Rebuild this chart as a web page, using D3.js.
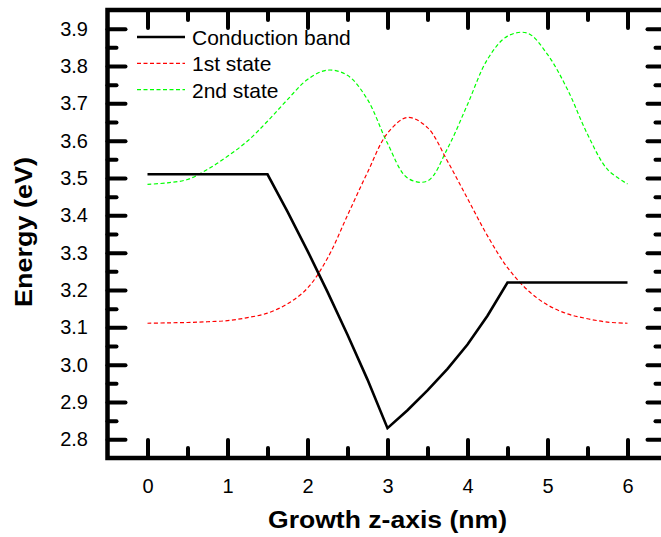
<!DOCTYPE html>
<html>
<head>
<meta charset="utf-8">
<script src="https://cdn.jsdelivr.net/npm/d3@7"></script>
<style>
  html, body { margin: 0; padding: 0; background: #fff; }
  svg { display: block; font-family: "Liberation Sans", Arial, sans-serif; }
</style>
</head>
<body>
<svg id="chart" width="661" height="537"></svg>
<script>
// Conduction band profile along the growth axis (nm, eV)
const bandZ = [0, 1.5, 1.75, 2.0, 2.25, 2.5, 2.75, 3.0, 3.25, 3.5, 3.75, 4.0, 4.25, 4.5, 6];
const bandE = [3.51, 3.51, 3.41, 3.305, 3.195, 3.08, 2.96, 2.83, 2.878, 2.931, 2.989, 3.054, 3.131, 3.22, 3.22];

// Sampling positions for the two bound states (nm)
const stateZ = [0, 0.25, 0.5, 0.75, 1.0, 1.25, 1.5, 1.75, 2.0, 2.25, 2.5, 2.75, 3.0,
                3.25, 3.5, 3.75, 4.0, 4.25, 4.5, 4.75, 5.0, 5.25, 5.5, 5.75, 6.0];
const state1 = [3.111, 3.112, 3.113, 3.115, 3.118, 3.126, 3.138, 3.163, 3.205, 3.285, 3.40, 3.515, 3.62,
                3.662, 3.635, 3.545, 3.445, 3.345, 3.26, 3.20, 3.16, 3.136, 3.123, 3.114, 3.111];
const state2 = [3.483, 3.487, 3.496, 3.523, 3.558, 3.599, 3.652, 3.71, 3.764, 3.789, 3.775, 3.71, 3.593,
                3.50, 3.492, 3.579, 3.697, 3.818, 3.88, 3.888, 3.831, 3.737, 3.617, 3.523, 3.484];

// Axis ticks
const xMajor = [0, 1, 2, 3, 4, 5, 6];
const xMinor = [0.5, 1.5, 2.5, 3.5, 4.5, 5.5];
const yMajor = [2.8, 2.9, 3.0, 3.1, 3.2, 3.3, 3.4, 3.5, 3.6, 3.7, 3.8, 3.9];
const yMinor = [2.85, 2.95, 3.05, 3.15, 3.25, 3.35, 3.45, 3.55, 3.65, 3.75, 3.85];

const seriesNames = ["Conduction band", "1st state", "2nd state"];

const svg = d3.select("#chart");
const plotL = 107.5, plotR = 667.5, plotT = 10, plotB = 458;

const x = d3.scaleLinear().domain([-0.5, 6.5]).range([plotL, plotR]);
const y = d3.scaleLinear().domain([2.75, 3.95]).range([plotB, plotT]);

const fmt = d3.format(".1f");

function styleAxis(g, width) {
  g.select(".domain").remove();
  g.selectAll(".tick line")
    .attr("stroke", "#000")
    .attr("stroke-width", width)
    .attr("stroke-linecap", "round");
  g.selectAll(".tick text")
    .attr("fill", "#000")
    .attr("font-size", 20)
    .attr("font-family", "Liberation Sans, Arial, sans-serif");
}

// Bottom axis
svg.append("g").attr("transform", `translate(0,${plotB})`)
  .call(d3.axisBottom(x).tickValues(xMajor).tickSize(-18).tickSizeOuter(0).tickPadding(21).tickFormat(d3.format("d")))
  .call(g => styleAxis(g, 4));
svg.append("g").attr("transform", `translate(0,${plotB})`)
  .call(d3.axisBottom(x).tickValues(xMinor).tickSize(-10).tickSizeOuter(0).tickFormat(""))
  .call(g => styleAxis(g, 4));

// Top axis
svg.append("g").attr("transform", `translate(0,${plotT})`)
  .call(d3.axisTop(x).tickValues(xMajor).tickSize(-18).tickSizeOuter(0).tickFormat(""))
  .call(g => styleAxis(g, 4));
svg.append("g").attr("transform", `translate(0,${plotT})`)
  .call(d3.axisTop(x).tickValues(xMinor).tickSize(-10).tickSizeOuter(0).tickFormat(""))
  .call(g => styleAxis(g, 4));

// Left axis
svg.append("g").attr("transform", `translate(${plotL},0)`)
  .call(d3.axisLeft(y).tickValues(yMajor).tickSize(-18).tickSizeOuter(0).tickPadding(19.5).tickFormat(fmt))
  .call(g => styleAxis(g, 4));
svg.append("g").attr("transform", `translate(${plotL},0)`)
  .call(d3.axisLeft(y).tickValues(yMinor).tickSize(-9).tickSizeOuter(0).tickFormat(""))
  .call(g => styleAxis(g, 4));

// Right axis
svg.append("g").attr("transform", `translate(${plotR},0)`)
  .call(d3.axisRight(y).tickValues(yMajor).tickSize(-20).tickSizeOuter(0).tickFormat(""))
  .call(g => styleAxis(g, 4));
svg.append("g").attr("transform", `translate(${plotR},0)`)
  .call(d3.axisRight(y).tickValues(yMinor).tickSize(-12).tickSizeOuter(0).tickFormat(""))
  .call(g => styleAxis(g, 4));

// Frame
svg.append("rect")
  .attr("x", plotL).attr("y", plotT)
  .attr("width", plotR - plotL).attr("height", plotB - plotT)
  .attr("fill", "none").attr("stroke", "#000").attr("stroke-width", 4.5);

// Curves
const smooth = d3.line().x(d => x(d[0])).y(d => y(d[1])).curve(d3.curveCatmullRom.alpha(0.5));
const straight = d3.line().x(d => x(d[0])).y(d => y(d[1]));

svg.append("path")
  .datum(stateZ.map((z, i) => [z, state2[i]]))
  .attr("d", smooth)
  .attr("fill", "none").attr("stroke", "#00ff00").attr("stroke-width", 1.2)
  .attr("stroke-dasharray", "4,2.5");

svg.append("path")
  .datum(stateZ.map((z, i) => [z, state1[i]]))
  .attr("d", smooth)
  .attr("fill", "none").attr("stroke", "#ff0000").attr("stroke-width", 1.2)
  .attr("stroke-dasharray", "4,2.5");

svg.append("path")
  .datum(bandZ.map((z, i) => [z, bandE[i]]))
  .attr("d", straight)
  .attr("fill", "none").attr("stroke", "#000").attr("stroke-width", 2.6)
  .attr("stroke-linejoin", "miter");

// Legend
const legendStyles = [
  { color: "#000", width: 2.6, dash: null },
  { color: "#ff0000", width: 1.2, dash: "4,2.5" },
  { color: "#00ff00", width: 1.2, dash: "4,2.5" }
];
const legend = svg.append("g");
seriesNames.forEach((name, i) => {
  const cy = 37 + i * 26.3;
  const s = legendStyles[i];
  legend.append("line")
    .attr("x1", 137).attr("x2", 185).attr("y1", cy).attr("y2", cy)
    .attr("stroke", s.color).attr("stroke-width", s.width)
    .attr("stroke-dasharray", s.dash);
  legend.append("text")
    .attr("x", 192).attr("y", cy + 8)
    .attr("font-size", 21).attr("fill", "#000")
    .text(name);
});

// Axis titles
svg.append("text")
  .attr("x", (268 + 507) / 2).attr("y", 528)
  .attr("text-anchor", "middle")
  .attr("font-size", 23).attr("font-weight", "bold")
  .attr("textLength", 239).attr("lengthAdjust", "spacingAndGlyphs")
  .text("Growth z-axis (nm)");

svg.append("text")
  .attr("transform", "translate(31.5,232) rotate(-90)")
  .attr("text-anchor", "middle")
  .attr("font-size", 24).attr("font-weight", "bold")
  .attr("textLength", 150).attr("lengthAdjust", "spacingAndGlyphs")
  .text("Energy (eV)");
</script>
</body>
</html>
